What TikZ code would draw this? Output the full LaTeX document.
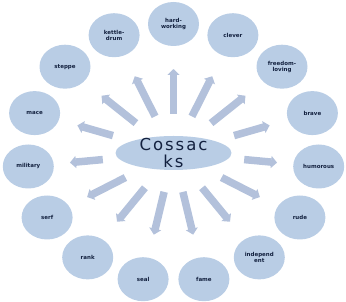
\documentclass[tikz,border=0pt]{standalone}
\usepackage{fontspec}
\setmainfont{DejaVu Sans}
\newfontfamily\titlefont[LetterSpace=12]{DejaVu Sans}
\usetikzlibrary{shapes.geometric,arrows.meta,calc}
\definecolor{bubblefill}{HTML}{B9CDE5}
\definecolor{rayfill}{HTML}{B3C1DB}
\definecolor{inkblue}{HTML}{13213F}

\begin{document}
\begin{tikzpicture}[x=1pt, y=1pt,
    bubble/.style={ellipse, fill=bubblefill, minimum width=51pt, minimum height=44pt, inner sep=0pt, align=center, text=inkblue, font=\fontsize{5.5}{6}\selectfont\bfseries},
    ray/.style={-{Triangle[width=12pt,length=6pt]}, line width=7.5pt, color=rayfill}
]
\useasboundingbox (0,0) rectangle (346,302);

\node[ellipse, fill=bubblefill, minimum width=116pt, minimum height=34pt, inner sep=0pt,
    label={[align=center, text=inkblue, font=\titlefont\fontsize{16.5}{17.4}\selectfont]center:Cossac\\ks}] (cossacks) at (173.5,149) {};

\node[bubble] (hard) at (173.5,278) {hard-\\working};
\node[bubble] (kettle) at (114.1,266.8) {kettle-\\drum};
\node[bubble] (steppe) at (65.0,235.3) {steppe};
\node[bubble] (mace) at (34.6,188.9) {mace};
\node[bubble] (military) at (28.3,135.5) {military};
\node[bubble] (serf) at (47.1,84.5) {serf};
\node[bubble] (rank) at (87.7,44.6) {rank};
\node[bubble] (seal) at (143.1,22.8) {seal};
\node[bubble] (fame) at (203.9,22.8) {fame};
\node[bubble] (independent) at (259.3,44.6) {independ\\ent};
\node[bubble] (rude) at (299.9,84.5) {rude};
\node[bubble] (humorous) at (318.7,135.5) {humorous};
\node[bubble] (brave) at (312.4,188.9) {brave};
\node[bubble] (freedom) at (282.0,235.3) {freedom-\\loving};
\node[bubble] (clever) at (232.9,266.8) {clever};

\draw[ray] ($(cossacks.center)!39pt!(hard)$) -- ($(cossacks.center)!84pt!(hard)$);
\draw[ray] ($(cossacks.center)!41pt!(kettle)$) -- ($(cossacks.center)!86pt!(kettle)$);
\draw[ray] ($(cossacks.center)!48pt!(steppe)$) -- ($(cossacks.center)!92pt!(steppe)$);
\draw[ray] ($(cossacks.center)!63pt!(mace)$) -- ($(cossacks.center)!100pt!(mace)$);
\draw[ray] ($(cossacks.center)!71pt!(military)$) -- ($(cossacks.center)!104pt!(military)$);
\draw[ray] ($(cossacks.center)!54pt!(serf)$) -- ($(cossacks.center)!97pt!(serf)$);
\draw[ray] ($(cossacks.center)!45pt!(rank)$) -- ($(cossacks.center)!89pt!(rank)$);
\draw[ray] ($(cossacks.center)!40pt!(seal)$) -- ($(cossacks.center)!84pt!(seal)$);
\draw[ray] ($(cossacks.center)!40pt!(fame)$) -- ($(cossacks.center)!84pt!(fame)$);
\draw[ray] ($(cossacks.center)!45pt!(independent)$) -- ($(cossacks.center)!89pt!(independent)$);
\draw[ray] ($(cossacks.center)!54pt!(rude)$) -- ($(cossacks.center)!97pt!(rude)$);
\draw[ray] ($(cossacks.center)!71pt!(humorous)$) -- ($(cossacks.center)!104pt!(humorous)$);
\draw[ray] ($(cossacks.center)!63pt!(brave)$) -- ($(cossacks.center)!100pt!(brave)$);
\draw[ray] ($(cossacks.center)!48pt!(freedom)$) -- ($(cossacks.center)!92pt!(freedom)$);
\draw[ray] ($(cossacks.center)!41pt!(clever)$) -- ($(cossacks.center)!86pt!(clever)$);
\end{tikzpicture}
\end{document}
